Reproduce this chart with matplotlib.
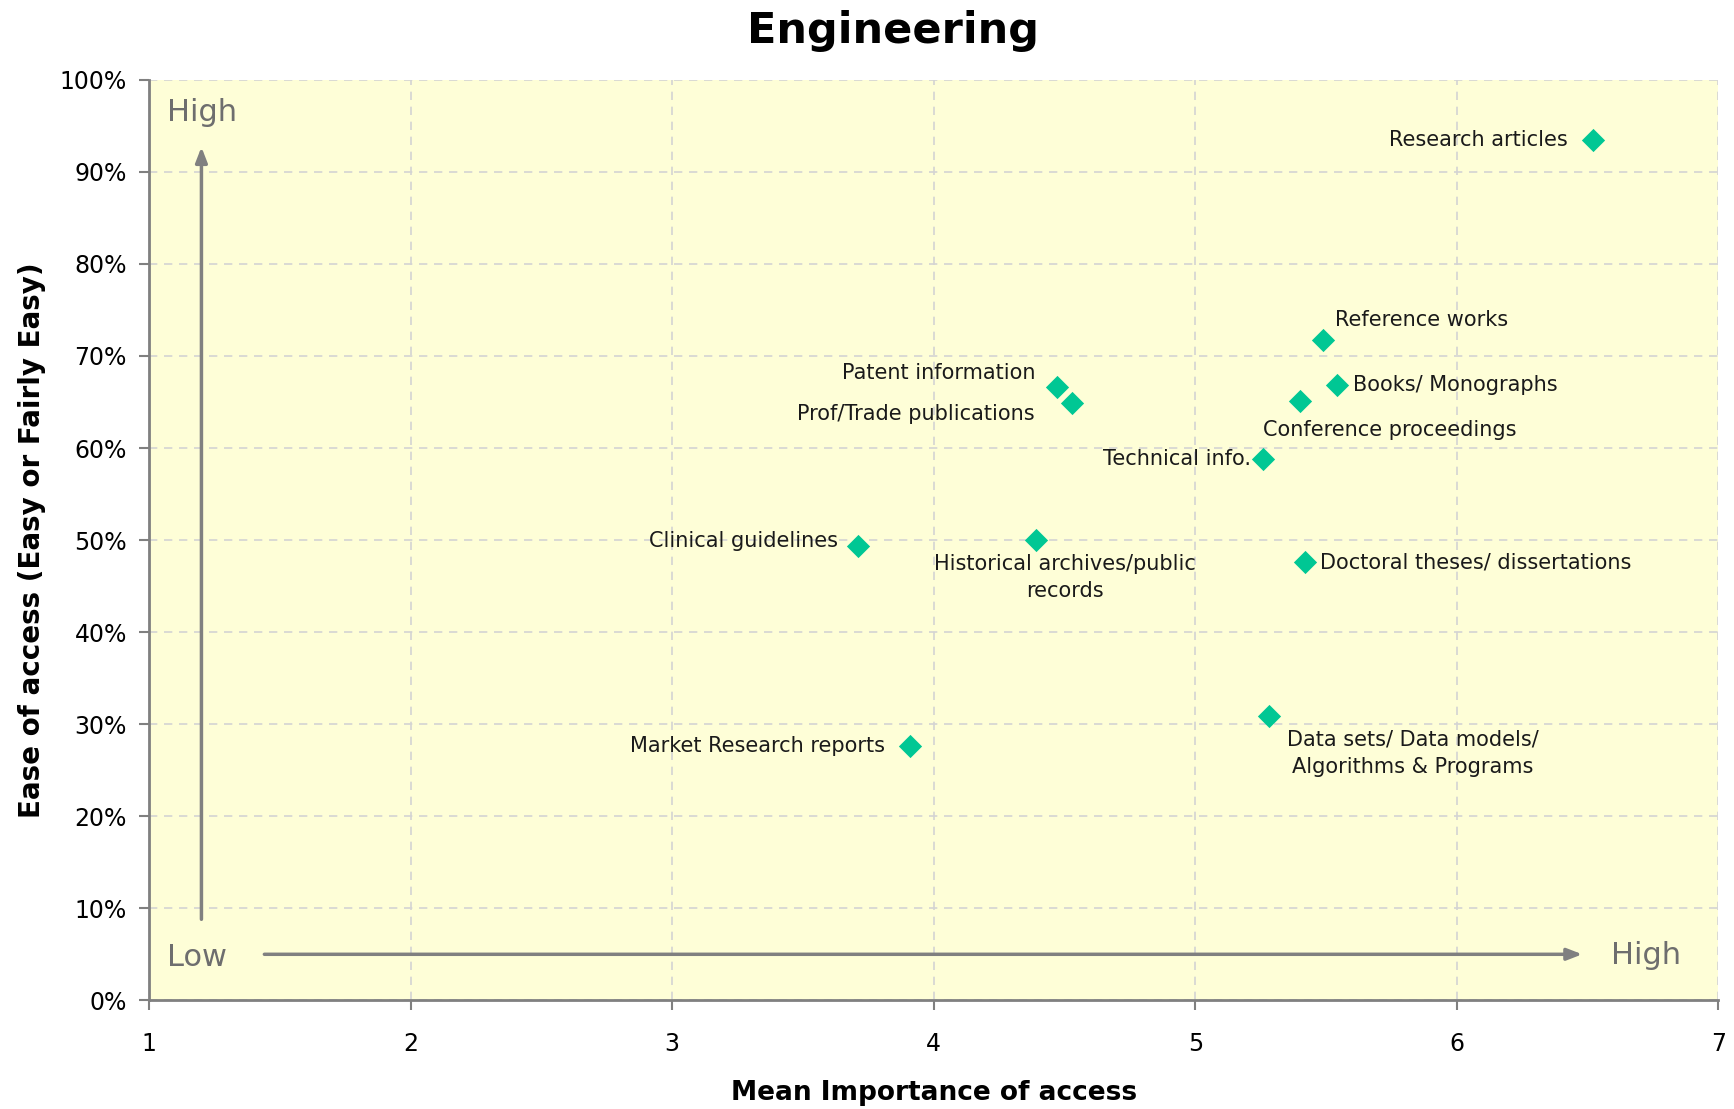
import matplotlib
matplotlib.use("Agg")
import matplotlib.pyplot as plt
from matplotlib.ticker import PercentFormatter

# data
names = ["Research articles", "Reference works", "Books/ Monographs",
         "Conference proceedings", "Technical info.", "Patent information",
         "Prof/Trade publications", "Clinical guidelines",
         "Historical archives/public\nrecords", "Doctoral theses/ dissertations",
         "Data sets/ Data models/\nAlgorithms & Programs", "Market Research reports"]
importance = [6.52, 5.49, 5.54, 5.40, 5.26, 4.47, 4.53, 3.71, 4.39, 5.42, 5.28, 3.91]
ease = [0.935, 0.717, 0.669, 0.651, 0.588, 0.666, 0.649, 0.494, 0.500, 0.476, 0.309, 0.276]

# label offsets (points) and alignment
offsets = [(-18, 0), (8, 15), (12, 0), (65, -21), (-9, 0), (-15, 10),
           (-27, -8), (-14, 3), (21, -27), (11, 0), (104, -27), (-18, 0)]
aligns = ["right", "left", "left", "center", "right", "right",
          "right", "right", "center", "left", "center", "right"]

fig = plt.figure(figsize=(17.34, 11.09), dpi=100)
ax = fig.add_axes([0.086, 0.098, 0.905, 0.830])
ax.set_facecolor("#FEFED7")

ax.scatter(importance, ease, marker="D", s=140, color="#00C794", zorder=3, linewidths=0)

for name, x, y, off, ha in zip(names, importance, ease, offsets, aligns):
    ax.annotate(name, (x, y), xytext=off, textcoords="offset points",
                ha=ha, va="center", fontsize=15, color="#1a1a1a",
                multialignment="center", linespacing=1.45, zorder=4)

ax.set_xlim(1, 7)
ax.set_ylim(0, 1)
ax.set_xticks([1, 2, 3, 4, 5, 6, 7])
ax.set_yticks([i / 10 for i in range(11)])
ax.yaxis.set_major_formatter(PercentFormatter(1.0, decimals=0))
ax.tick_params(axis="both", labelsize=17, color="#808080", length=7, width=1.5)
ax.tick_params(axis="x", pad=16)
ax.tick_params(axis="y", pad=9)

ax.grid(True, linestyle=(0, (5, 4)), color="#D3D3D3", linewidth=1.2)
ax.set_axisbelow(True)
for side in ["top", "right"]:
    ax.spines[side].set_visible(False)
for side in ["left", "bottom"]:
    ax.spines[side].set_color("#808080")
    ax.spines[side].set_linewidth(2)

# quadrant arrows
arrow_style = dict(arrowstyle="-|>,head_length=0.9,head_width=0.35", color="#808080", lw=2.5)
ax.annotate("", xy=(1.2, 0.93), xytext=(1.2, 0.085), arrowprops=arrow_style)
ax.annotate("", xy=(6.49, 0.05), xytext=(1.43, 0.05), arrowprops=arrow_style)
ax.text(1.07, 0.964, "High", fontsize=22, color="#6E6E6E", va="center", ha="left")
ax.text(1.07, 0.047, "Low", fontsize=22, color="#6E6E6E", va="center", ha="left")
ax.text(6.59, 0.049, "High", fontsize=22, color="#6E6E6E", va="center", ha="left")

ax.set_xlabel("Mean Importance of access", fontsize=19, fontweight="bold", labelpad=17)
ax.set_ylabel("Ease of access (Easy or Fairly Easy)", fontsize=20, fontweight="bold", labelpad=10)
fig.suptitle("Engineering", fontsize=31, fontweight="bold", x=0.515, y=0.972, va="center")

fig.savefig("out.png", dpi=100)
